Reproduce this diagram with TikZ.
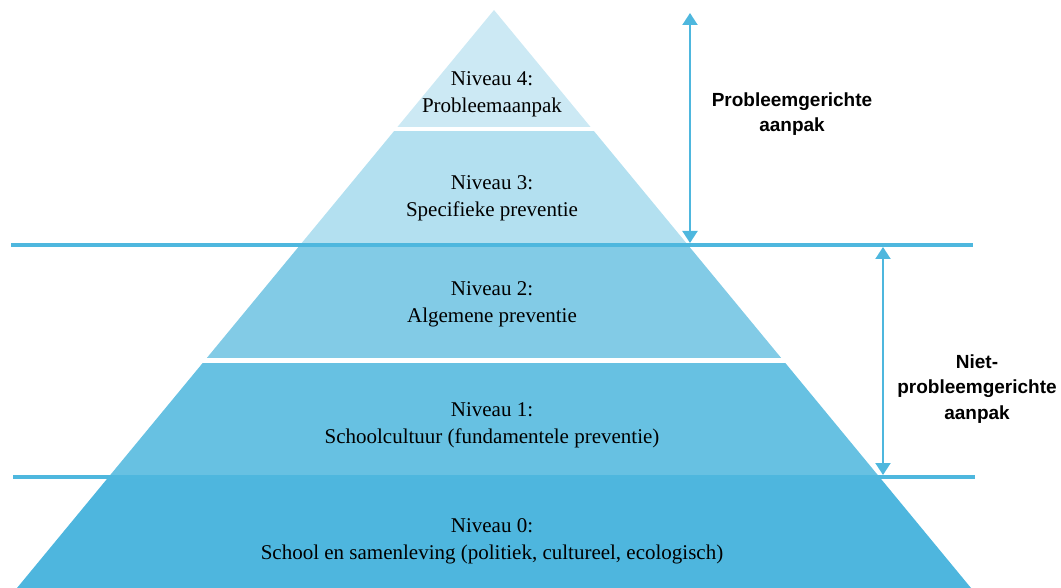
\documentclass[tikz,border=0pt]{standalone}
\usepackage{fontspec}
\setmainfont{Liberation Serif}
\setsansfont{Liberation Sans}
\usetikzlibrary{arrows.meta,positioning,calc}
\definecolor{lvlfour}{RGB}{204,233,244}
\definecolor{lvlthree}{RGB}{179,224,240}
\definecolor{lvltwo}{RGB}{130,203,230}
\definecolor{lvlone}{RGB}{103,193,226}
\definecolor{lvlzero}{RGB}{78,182,222}
\definecolor{lineblue}{RGB}{78,183,222}

\begin{document}
\begin{tikzpicture}[
      x = 1pt,y = -1pt,
      layer/.style = {align = center,text centered,font = \fontsize{21}{27}\selectfont},
      sidetext/.style = {align = center,font = \sffamily\bfseries\fontsize{19}{25.5}\selectfont},
      divider/.style = {line width = 4pt,draw = lineblue},
      arrow/.style = {<->,>={Triangle[width = 15pt,length = 12pt]},line width = 2pt,draw = lineblue}
    ]
      \useasboundingbox (0,0) rectangle (1061,588);
      \coordinate (apex) at (494,10);
      \coordinate (baseL) at (17,588);
      \coordinate (baseR) at (971,588);

      % pyramid layers
      \begin{scope}
        \clip (apex) -- (baseL) -- (baseR) -- cycle;
        \fill[lvlfour] (0,0) rectangle (1061,127);
        \fill[lvlthree] (0,131) rectangle (1061,245);
        \fill[lvltwo] (0,245) rectangle (1061,358);
        \fill[lvlone] (0,363) rectangle (1061,477);
        \fill[lvlzero] (0,477) rectangle (1061,588);
      \end{scope}

      \coordinate (cutAL) at (11,245);
      \coordinate (cutAR) at (973,245);
      \coordinate (cutBL) at (13,477);
      \coordinate (cutBR) at (975,477);
      \draw[divider] (cutAL) -- (cutAR);
      \draw[divider] (cutBL) -- (cutBR);

      \node (n4)[layer] at (492,94) {Niveau 4:\\Probleemaanpak};
      \node (n3)[layer] at (492,198) {Niveau 3:\\Specifieke preventie};
      \node (n2)[layer] at (492,304) {Niveau 2:\\Algemene preventie};
      \node (n1)[layer] at (492,425) {Niveau 1:\\Schoolcultuur (fundamentele preventie)};
      \node (n0)[layer] at (492,541) {Niveau 0:\\School en samenleving (politiek, cultureel, ecologisch)};

      \coordinate (upTop) at (690,13);
      \coordinate (upBot) at (690,243);
      \coordinate (lowTop) at (883,247);
      \coordinate (lowBot) at (883,475);
      \draw[arrow] (upTop) -- (upBot);
      \draw[arrow] (lowTop) -- (lowBot);

      \node (pg)[sidetext] at (792,114) {Probleemgerichte\\aanpak};
      \node (npg)[sidetext] at (977,389) {Niet-\\probleemgerichte\\aanpak};
    \end{tikzpicture}
\end{document}
